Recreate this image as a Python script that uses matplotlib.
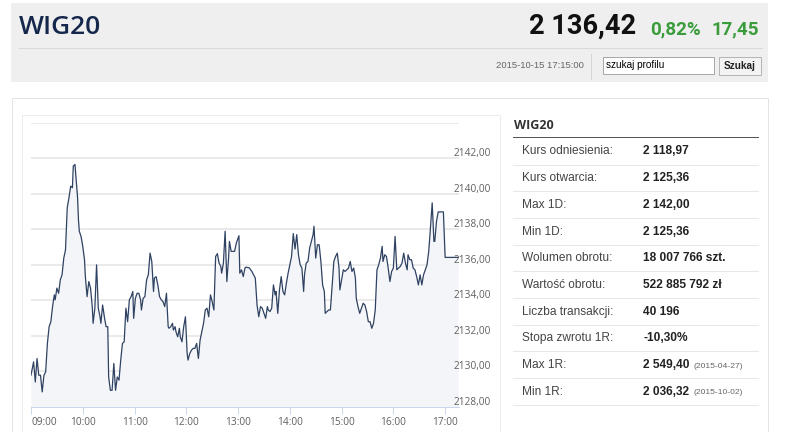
import matplotlib.pyplot as plt
from matplotlib.patches import Rectangle
import matplotlib.transforms as mtransforms

# session data: minutes after 09:00 and index level
minutes = [0, 3, 5, 7, 9, 11, 13, 15, 17, 19,
           21, 23, 25, 27, 28, 30, 32, 34, 36, 38,
           40, 42, 44, 46, 48, 49, 51, 52, 54, 55,
           56, 58, 60, 62, 63, 65, 67, 69, 71, 72,
           74, 76, 78, 80, 81, 83, 85, 87, 89, 90,
           92, 94, 96, 98, 100, 102, 104, 106, 108, 110,
           112, 114, 116, 118, 119, 121, 123, 125, 127, 128,
           130, 132, 134, 136, 138, 140, 142, 143, 145, 147,
           149, 151, 153, 155, 157, 159, 160, 162, 164, 165,
           167, 168, 170, 172, 173, 175, 177, 179, 181, 182,
           184, 186, 188, 190, 192, 194, 196, 198, 200, 202,
           204, 206, 208, 210, 212, 214, 216, 218, 220, 221,
           223, 225, 227, 229, 230, 232, 235, 236, 238, 241,
           242, 244, 246, 248, 249, 251, 253, 256, 258, 260,
           262, 264, 266, 268, 270, 272, 274, 275, 277, 279,
           281, 283, 284, 286, 288, 290, 292, 294, 296, 298,
           300, 302, 304, 306, 308, 310, 312, 314, 316, 317,
           319, 321, 323, 325, 327, 328, 330, 332, 334, 336,
           338, 340, 341, 343, 345, 347, 349, 351, 353, 355,
           357, 358, 360, 362, 364, 366, 368, 370, 372, 374,
           376, 377, 379, 381, 383, 385, 387, 389, 391, 393,
           395, 397, 399, 401, 403, 405, 407, 408, 410, 412,
           414, 416, 418, 420, 422, 424, 426, 428, 430, 432,
           434, 436, 437, 439, 441, 443, 445, 447, 449, 451,
           453, 455, 457, 459, 461, 463, 465, 467, 468, 470,
           472, 478, 480, 495]

values = [2129.79, 2130.54, 2129.41, 2130.73, 2129.79, 2129.79, 2128.85, 2129.79, 2129.98, 2131.58,
          2132.52, 2132.80, 2133.65, 2134.31, 2134.03, 2134.69, 2134.40, 2135.16, 2135.44, 2136.38,
          2136.85, 2139.21, 2139.77, 2140.43, 2140.34, 2141.56, 2141.65, 2140.99, 2139.77, 2138.55,
          2137.89, 2137.60, 2137.04, 2136.29, 2135.34, 2134.21, 2135.06, 2134.69, 2133.65, 2132.71,
          2133.56, 2136.00, 2133.56, 2133.08, 2132.71, 2133.74, 2133.08, 2132.52, 2132.52, 2129.69,
          2128.94, 2128.94, 2130.45, 2128.94, 2129.69, 2129.51, 2130.64, 2131.58, 2131.67, 2133.56,
          2132.80, 2134.03, 2134.21, 2134.50, 2132.99, 2134.12, 2134.40, 2134.40, 2134.03, 2133.46,
          2134.12, 2134.21, 2135.16, 2135.44, 2136.66, 2136.19, 2134.50, 2135.25, 2135.34, 2134.87,
          2134.21, 2134.03, 2133.93, 2133.65, 2134.40, 2132.52, 2132.43, 2132.52, 2132.71, 2132.33,
          2132.52, 2132.24, 2131.95, 2132.43, 2131.95, 2131.67, 2132.52, 2133.08, 2131.01, 2130.64,
          2131.01, 2131.20, 2131.30, 2131.30, 2131.58, 2130.73, 2131.77, 2132.24, 2132.71, 2133.46,
          2133.56, 2133.08, 2134.31, 2133.93, 2133.46, 2136.47, 2136.63, 2136.10, 2135.91, 2135.53,
          2136.10, 2137.89, 2135.06, 2136.38, 2137.32, 2136.76, 2136.76, 2136.76, 2137.23, 2137.64,
          2135.53, 2135.72, 2135.34, 2135.82, 2135.87, 2135.85, 2135.83, 2135.63, 2135.44, 2135.25,
          2133.74, 2133.08, 2133.65, 2133.56, 2133.27, 2132.99, 2133.65, 2133.46, 2133.37, 2133.56,
          2134.87, 2134.31, 2134.50, 2133.27, 2134.59, 2135.34, 2134.50, 2134.31, 2134.97, 2135.53,
          2136.00, 2136.47, 2137.76, 2136.89, 2137.70, 2136.57, 2136.00, 2135.82, 2134.50, 2135.44,
          2136.10, 2136.19, 2136.95, 2137.32, 2137.70, 2138.17, 2136.38, 2137.13, 2137.13, 2136.19,
          2134.87, 2134.50, 2133.27, 2133.37, 2133.46, 2133.46, 2134.78, 2136.19, 2136.47, 2136.66,
          2135.82, 2134.59, 2135.16, 2135.72, 2135.63, 2135.72, 2135.82, 2136.19, 2135.63, 2135.82,
          2135.25, 2134.12, 2133.65, 2133.27, 2133.56, 2133.84, 2133.74, 2133.37, 2132.80, 2132.80,
          2132.43, 2132.71, 2133.46, 2135.72, 2136.00, 2136.38, 2137.04, 2136.19, 2136.57, 2136.47,
          2135.82, 2135.06, 2135.63, 2135.82, 2137.60, 2135.72, 2135.82, 2135.91, 2136.10, 2136.66,
          2136.10, 2135.72, 2136.57, 2136.29, 2136.29, 2135.82, 2135.72, 2135.34, 2134.87, 2135.44,
          2134.87, 2135.44, 2135.72, 2136.00, 2136.76, 2138.08, 2139.49, 2137.32, 2137.32, 2138.45,
          2138.98, 2138.98, 2136.42, 2136.42]

hour_ticks = [0, 60, 120, 180, 240, 300, 360, 420, 480]
hour_labels = ["09:00", "10:00", "11:00", "12:00", "13:00", "14:00", "15:00", "16:00", "17:00"]
y_ticks = [2128, 2130, 2132, 2134, 2136, 2138, 2140, 2142, 2144]

# table data
row_labels = ["Kurs odniesienia:", "Kurs otwarcia:", "Max 1D:", "Min 1D:", "Wolumen obrotu:",
              "Wartość obrotu:", "Liczba transakcji:", "Stopa zwrotu 1R:", "Max 1R:", "Min 1R:"]
row_values = ["2 118,97", "2 125,36", "2 142,00", "2 125,36", "18 007 766 szt.",
              "522 885 792 zł", "40 196", "-10,30%", "2 549,40", "2 036,32"]
row_dates = ["", "", "", "", "", "", "", "", "(2015-04-27)", "(2015-10-02)"]

last_price = "2 136,42"
change_pct = "0,82%"
change_abs = "17,45"
stamp = "2015-10-15 17:15:00"

W, H = 786, 432
fig = plt.figure(figsize=(W / 100, H / 100), dpi=100)
fig.patch.set_facecolor("white")

# page chrome drawn in pixel coordinates
bg = fig.add_axes([0, 0, 1, 1])
bg.set_xlim(0, W)
bg.set_ylim(H, 0)
bg.axis("off")
px = 0.72

bg.add_patch(Rectangle((11, 3), 757, 79, facecolor="#efefef", edgecolor="none"))
bg.plot([19, 762], [48, 48], color="#d9d9d9", lw=px)
bg.text(19, 34, "WIG20", fontsize=19, family="Open Sans", weight="semibold", color="#15284b")
bg.text(636, 34, last_price, fontsize=19.5, family="Roboto", weight="bold", color="#111111", ha="right")
bg.text(650, 34, change_pct, fontsize=13.5, family="Roboto", weight="bold", color="#3b9c3c")
bg.text(759, 34, change_abs, fontsize=13.5, family="Roboto", weight="bold", color="#3b9c3c", ha="right")

bg.text(584, 66, stamp, fontsize=6.8, family="Liberation Sans", color="#666666", ha="right", va="center")
bg.plot([591, 591], [54, 79], color="#d5d5d5", lw=px)
bg.add_patch(Rectangle((603, 57), 111, 17, facecolor="white", edgecolor="#a9a9a9", lw=px))
bg.text(606, 65.5, "szukaj profilu", fontsize=7.2, family="Liberation Sans", color="black", va="center")
bg.add_patch(Rectangle((719, 57), 42, 18, facecolor="#f3f3f3", edgecolor="#b5b5b5", lw=px))
bg.text(740, 66, "Szukaj", fontsize=7.2, family="Liberation Sans", weight="bold", color="#222222",
        ha="center", va="center")

bg.add_patch(Rectangle((12, 98), 756, 360, facecolor="white", edgecolor="#e3e3e3", lw=px))
bg.add_patch(Rectangle((22, 115), 478, 360, facecolor="white", edgecolor="#ececec", lw=px))

# stats table
bg.text(514, 129, "WIG20", fontsize=9, family="Open Sans", weight="bold", color="#333333")
bg.plot([513, 758], [137, 137], color="#555555", lw=px)
for i in range(len(row_labels)):
    yc = 151.5 + i * 26.7
    bg.text(522, yc, row_labels[i], fontsize=8.6, family="Liberation Sans", color="#444444", va="center")
    bg.text(643, yc, row_values[i], fontsize=8.6, family="Liberation Sans", weight="bold",
            color="#222222", va="center")
    if row_dates[i]:
        bg.text(693, yc + 1, row_dates[i], fontsize=6.1, family="Liberation Sans", color="#666666",
                va="center")
    bg.plot([513, 758], [164.5 + i * 26.7] * 2, color="#e8e8e8", lw=px)

# price chart
x0, x1, y0, y1 = 31, 458.5, 122.7, 407
ax = fig.add_axes([x0 / W, 1 - y1 / H, (x1 - x0) / W, (y1 - y0) / H])
ax.set_facecolor("none")
ax.fill_between(minutes, values, 2128, color="#f4f5f8", lw=0)
ax.plot(minutes, values, color="#2f4262", lw=0.9)
ax.set_xlim(0, 495.5)
ax.set_ylim(2128, 2144)

ax.set_yticks(y_ticks)
ax.yaxis.grid(True, color="#e8e8e8", lw=1.3)
ax.set_axisbelow(True)
ax.tick_params(axis="y", length=0, labelleft=False)
for s in ["top", "left", "right"]:
    ax.spines[s].set_visible(False)
ax.spines["bottom"].set_color("#ccd6eb")
ax.spines["bottom"].set_linewidth(px)

trans = mtransforms.blended_transform_factory(ax.transAxes, ax.transData)
for v in y_ticks[:-1]:
    ax.annotate(f"{v},00", xy=(1, v), xycoords=trans, xytext=(-3.2, 3.3), textcoords="offset points",
                fontsize=7.3, family="Open Sans", color="#606060", va="center", ha="left",
                annotation_clip=False)

ax.set_xticks(hour_ticks)
ax.set_xticklabels(hour_labels, fontsize=7.3, family="Open Sans", color="#606060")
ax.get_xticklabels()[0].set_ha("left")
ax.tick_params(axis="x", length=5, width=px, color="#ccd6eb", pad=2)

fig.savefig("out.png", dpi=100)
